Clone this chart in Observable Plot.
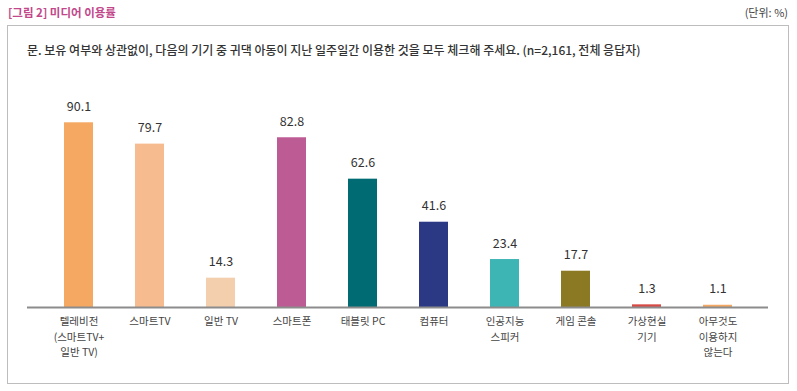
<!DOCTYPE html>
<html>
<head>
<meta charset="utf-8">
<script src="https://cdn.jsdelivr.net/npm/d3@7"></script>
<script src="https://cdn.jsdelivr.net/npm/@observablehq/plot@0.6"></script>
<style>
  html, body { margin: 0; padding: 0; background: #fff; }
  body { font-family: "Noto Sans CJK KR", "Noto Sans", sans-serif; }
  #page { position: relative; width: 797px; height: 391px; overflow: hidden; }
  #title { position: absolute; left: 8px; top: 3px; font-size: 11.5px; font-weight: 700; color: #c2478b; line-height: 18px; }
  #unit { position: absolute; right: 9px; top: 3px; font-size: 11px; color: #444; line-height: 18px; }
  #box { position: absolute; left: 7px; top: 25px; width: 782px; height: 359px; box-sizing: border-box; border: 1px solid #bdbdbd; }
  #question { position: absolute; left: 27px; top: 40px; font-size: 12px; font-weight: 500; color: #333; line-height: 20px; white-space: nowrap; }
  #chart { position: absolute; left: 8px; top: 60px; }
</style>
</head>
<body>
<div id="page">
  <div id="title">[그림 2] 미디어 이용률</div>
  <div id="unit">(단위: %)</div>
  <div id="box"></div>
  <div id="question">문. 보유 여부와 상관없이, 다음의 기기 중 귀댁 아동이 지난 일주일간 이용한 것을 모두 체크해 주세요. (n=2,161, 전체 응답자)</div>
  <div id="chart"></div>
</div>
<script>
const categories = [
  "텔레비전\n(스마트TV+\n일반 TV)",
  "스마트TV",
  "일반 TV",
  "스마트폰",
  "태블릿 PC",
  "컴퓨터",
  "인공지능\n스피커",
  "게임 콘솔",
  "가상현실\n기기",
  "아무것도\n이용하지\n않는다"
];
const values = [90.1, 79.7, 14.3, 82.8, 62.6, 41.6, 23.4, 17.7, 1.3, 1.1];
const colors = ["#f5a862", "#f7bb90", "#f3cfae", "#bd5b94", "#006b73", "#2b3883", "#3eb5b5", "#8b7a23", "#d84a45", "#f5a862"];

const data = categories.map((c, i) => ({cat: c, value: values[i]}));

const chart = Plot.plot({
  width: 780,
  height: 320,
  marginLeft: 19,
  marginRight: 20,
  marginTop: 42,
  marginBottom: 73,
  style: {fontFamily: '"Noto Sans CJK KR", sans-serif', color: "#444", background: "transparent"},
  x: {domain: categories, paddingInner: 0.593, paddingOuter: 0.493},
  y: {domain: [0, 100], axis: null},
  color: {domain: categories, range: colors},
  marks: [
    Plot.barY(data, {x: "cat", y: "value", fill: "cat"}),
    Plot.ruleY([0], {stroke: "#8c8c8c", strokeWidth: 2}),
    Plot.text(data, {x: "cat", y: "value", text: d => d.value.toFixed(1), dy: -16, fontSize: 12.5, fill: "#333"}),
    Plot.axisX({tickSize: 0, tickPadding: 7, lineAnchor: "top", fontSize: 10.5, lineHeight: 1.46, label: null})
  ]
});
document.getElementById("chart").appendChild(chart);
</script>
</body>
</html>
